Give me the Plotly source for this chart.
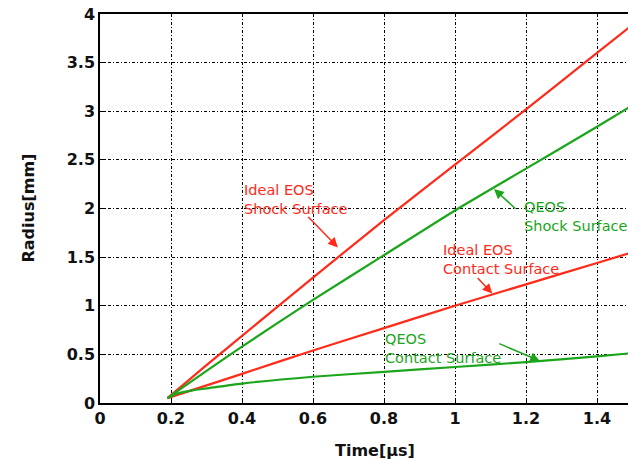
import plotly.graph_objects as go

# ---- data ----
ideal_shock_t = [0.19, 0.30, 0.40, 0.60, 0.80, 1.00, 1.20, 1.40, 1.49]
ideal_shock_r = [0.05, 0.39, 0.69, 1.29, 1.88, 2.45, 3.02, 3.60, 3.86]

qeos_shock_t = [0.19, 0.30, 0.40, 0.60, 0.80, 1.00, 1.20, 1.40, 1.49]
qeos_shock_r = [0.05, 0.33, 0.58, 1.06, 1.52, 1.98, 2.41, 2.84, 3.04]

ideal_contact_t = [0.19, 0.40, 0.60, 0.80, 1.00, 1.20, 1.40, 1.49]
ideal_contact_r = [0.05, 0.30, 0.54, 0.77, 1.00, 1.22, 1.44, 1.54]

qeos_contact_t = [0.19, 0.22, 0.26, 0.30, 0.40, 0.60, 0.80, 1.00, 1.20, 1.40, 1.49]
qeos_contact_r = [0.05, 0.10, 0.13, 0.15, 0.20, 0.27, 0.32, 0.37, 0.42, 0.48, 0.51]

x_ticks = [0, 0.2, 0.4, 0.6, 0.8, 1, 1.2, 1.4]
y_ticks = [0, 0.5, 1, 1.5, 2, 2.5, 3, 3.5, 4]

RED = "#ff2a1a"
GREEN = "#1aa51a"
FONT = "DejaVu Sans"

fig = go.Figure()
for t, r, c in [(ideal_shock_t, ideal_shock_r, RED),
                (qeos_shock_t, qeos_shock_r, GREEN),
                (ideal_contact_t, ideal_contact_r, RED),
                (qeos_contact_t, qeos_contact_r, GREEN)]:
    fig.add_trace(go.Scatter(x=t, y=r, mode="lines",
                             line=dict(color=c, width=2.2, shape="spline", smoothing=0.6),
                             showlegend=False, hoverinfo="skip"))

axis_common = dict(
    showline=True, linecolor="black", linewidth=1.5,
    showgrid=True, gridcolor="black", gridwidth=1, griddash="3px,2px,1px,2px",
    ticks="inside", ticklen=5, tickcolor="black",
    tickfont=dict(family=FONT, size=16, color="#111", weight="bold"),
    zeroline=False,
)

fig.update_xaxes(range=[0, 528 / 355], tickvals=x_ticks,
                 ticktext=[f"{v:g}" for v in x_ticks], mirror=True, **axis_common)
fig.update_yaxes(range=[0, 4], tickvals=y_ticks,
                 ticktext=[f"{v:g}" for v in y_ticks], **axis_common)

annos = []
# axis titles
annos.append(dict(text="Time[μs]", xref="paper", yref="paper", x=(375 - 100) / 528,
                  y=-(450 - 403) / 389, xanchor="center", yanchor="middle", showarrow=False,
                  font=dict(family=FONT, size=16, color="#111", weight="bold")))
annos.append(dict(text="Radius[mm]", xref="paper", yref="paper", x=-(100 - 28) / 528,
                  y=0.5, xanchor="center", yanchor="middle", textangle=-90, showarrow=False,
                  font=dict(family=FONT, size=16, color="#111", weight="bold")))

# labels
labels = [
    ("Ideal EOS<br>Shock Surface", 0.40, 2.29, RED),
    ("QEOS<br>Shock Surface", 1.189, 2.12, GREEN),
    ("Ideal EOS<br>Contact Surface", 0.961, 1.68, RED),
    ("QEOS<br>Contact Surface", 0.797, 0.765, GREEN),
]
for txt, x, y, c in labels:
    annos.append(dict(text=txt, x=x, y=y, xanchor="left", yanchor="top", align="left",
                      showarrow=False, font=dict(family=FONT, size=14.5, color=c)))

# arrows (head at x,y, tail offset ax,ay in pixels)
arrows = [
    (0.670, 1.60, -31, -32, RED),
    (1.110, 2.20, 23, 21, GREEN),
    (1.105, 1.125, -16, -17, RED),
    (1.239, 0.432, -42, -18, GREEN),
]
for x, y, ax, ay, c in arrows:
    annos.append(dict(text="", x=x, y=y, ax=ax, ay=ay, showarrow=True,
                      arrowhead=2, arrowsize=1.3, arrowwidth=1.5, arrowcolor=c))

fig.update_layout(
    width=628, height=460,
    margin=dict(l=100, r=0, t=14, b=57),
    paper_bgcolor="white", plot_bgcolor="white",
    annotations=annos,
)

fig.write_html("out.html")
